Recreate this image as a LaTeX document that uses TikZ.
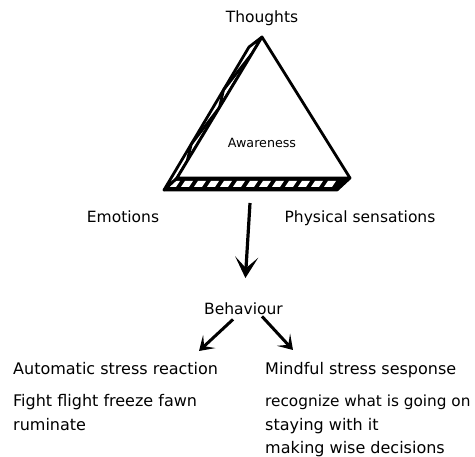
\documentclass[tikz,border=0pt]{standalone}
\usepackage{fontspec}
\setmainfont{DejaVu Sans}
\usetikzlibrary{arrows.meta,calc}
\tikzset{
    txt/.style={inner sep=0pt,anchor=base,font=\fontsize{15.5}{18}\selectfont},
    bodytxt/.style={inner sep=0pt,anchor=base west,font=\fontsize{16}{19}\selectfont},
    face/.style={line width=2.8pt,line join=round},
    bigarrow/.style={-{Stealth[length=21pt,width=23pt,inset=11pt]},line width=3.2pt},
    smallarrow/.style={-{Stealth[length=14pt,width=18pt,inset=7pt]},line width=3pt}
}
\begin{document}
\begin{tikzpicture}[x=1pt,y=-1pt]
    \useasboundingbox (0,0) rectangle (475,457);
    % Triangle corners, front face and back offset
    \coordinate (A) at (262,37);
    \coordinate (B) at (177,178);
    \coordinate (C) at (350,178);
    \coordinate (A2) at ($(A)+(-13,10)$);
    \coordinate (B2) at ($(B)+(-13,12)$);
    \coordinate (C2) at ($(C)+(-13,12)$);
    % Bottom face with stripes
    \fill[black] (B) -- (C) -- (C2) -- (B2) -- cycle;
    \foreach \x in {168,181,...,330}
        \fill[white] (\x,187) -- (\x+8,187) -- (\x+12,181) -- (\x+4,181) -- cycle;
    \draw[face] (B) -- (C) -- (C2) -- (B2) -- cycle;
    % Left face
    \draw[face,fill=white] (A) -- (B) -- (B2) -- (A2) -- cycle;
    \draw[face] ($(A)!0.12!(B)$) -- ($(A2)!0.3!(B2)$) -- ($(A)!0.5!(B)$)
        -- ($(A2)!0.68!(B2)$) -- ($(A)!0.88!(B)$);
    % Front face
    \draw[face,fill=white] (A) -- (B) -- (C) -- cycle;
    % Labels
    \node[txt] (thoughts) at (262,23) {Thoughts};
    \node[txt,font=\fontsize{12.7}{15}\selectfont] (aware) at (262,148) {Awareness};
    \node[txt] (emotions) at (123,223) {Emotions};
    \node[txt] (physical) at (360,223) {Physical sensations};
    \node[txt] (beh) at (243.5,315) {Behaviour};
    % Outcomes
    \node[bodytxt] (auto) at (13,375) {Automatic stress reaction};
    \node[bodytxt] (fight) at (13,407) {Fight flight freeze fawn};
    \node[bodytxt] (rumin) at (13,430.5) {ruminate};
    \node[bodytxt] (mind) at (265,375) {Mindful stress sesponse};
    \node[bodytxt,font=\fontsize{15.3}{18}\selectfont] (recog) at (265,407) {recognize what is going on};
    \node[bodytxt] (stay) at (265,430.5) {staying with it};
    \node[bodytxt] (wise) at (265,454) {making wise decisions};
    % Arrows
    \coordinate (tribase) at (250,203);
    \coordinate (lefttip) at (199,351);
    \coordinate (righttip) at (293,350);
    \draw[bigarrow,shorten >=25pt] (tribase) -- (beh);
    \draw[smallarrow] ($(beh.south)+(-10.5,4)$) -- (lefttip);
    \draw[smallarrow] ($(beh.south)+(18.5,1)$) -- (righttip);
\end{tikzpicture}
\end{document}
